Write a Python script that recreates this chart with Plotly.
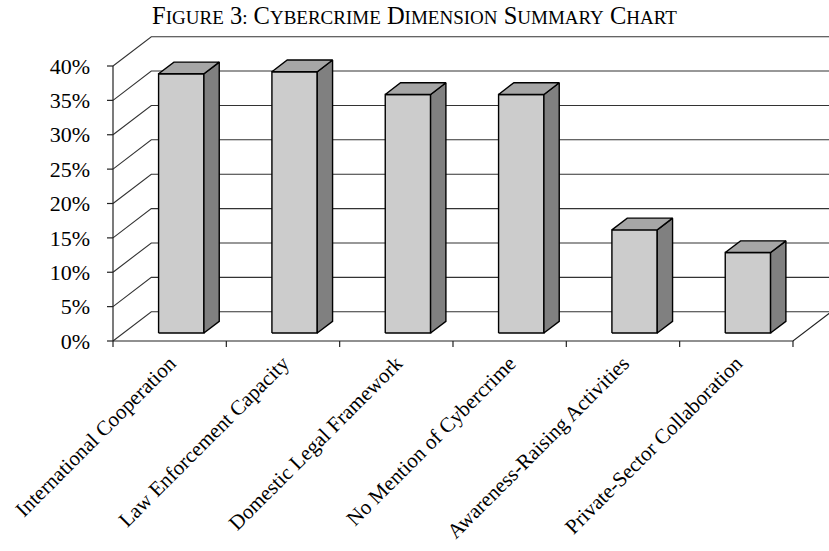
import plotly.graph_objects as go

# ---- data -------------------------------------------------------------
categories = [
    "International Cooperation",
    "Law Enforcement Capacity",
    "Domestic Legal Framework",
    "No Mention of Cybercrime",
    "Awareness-Raising Activities",
    "Private-Sector Collaboration",
]
shares = [37.7, 38.0, 34.7, 34.7, 15.0, 11.7]          # percent
tick_values = [0, 5, 10, 15, 20, 25, 30, 35, 40]
tick_labels = [f"{v}%" for v in tick_values]

# ---- oblique 3-D projection settings ----------------------------------
PX_PER_CAT = 113.33          # horizontal pixels per category
PX_PER_PCT = 6.875           # vertical pixels per percent
DEPTH_X = 38.3 / PX_PER_CAT  # full depth offset, category units
DEPTH_Y = 29.3 / PX_PER_PCT  # full depth offset, percent units
BAR_WIDTH = 0.40
BAR_T0, BAR_T1 = 0.273, 0.673  # bar front / back depth fractions

W, H = 829, 551
LEFT_PX, ZERO_PX = 113, 341
x0 = -10 / PX_PER_CAT
x1 = (W - LEFT_PX) / PX_PER_CAT
y0 = -12 / PX_PER_PCT
y1 = (ZERO_PX - 30) / PX_PER_PCT

TICK_X = 6 / PX_PER_CAT
TICK_Y = 6 / PX_PER_PCT

FRONT, TOP, SIDE = "#CCCCCC", "#A6A6A6", "#808080"
GRID = "#333333"
AXIS = "#222222"


def proj(x, y, t):
    return x + t * DEPTH_X, y + t * DEPTH_Y


fig = go.Figure()


def line(xs, ys, color, width):
    fig.add_trace(go.Scatter(x=xs, y=ys, mode="lines",
                             line=dict(color=color, width=width),
                             hoverinfo="skip", showlegend=False))


def face(pts, color):
    xs = [p[0] for p in pts] + [pts[0][0]]
    ys = [p[1] for p in pts] + [pts[0][1]]
    fig.add_trace(go.Scatter(x=xs, y=ys, mode="lines", fill="toself",
                             fillcolor=color,
                             line=dict(color="black", width=1.4),
                             hoverinfo="skip", showlegend=False))


# walls: left-side diagonals and back-wall gridlines
for v in tick_values:
    bx, by = proj(0, v, 1)
    line([0, bx, x1 + 1], [v, by, by], GRID, 1.1)

# front value axis with tick marks
line([0, 0], [0, tick_values[-1]], AXIS, 1.2)
for v in tick_values:
    line([-TICK_X, 0], [v, v], AXIS, 1.2)

# floor front edge, right floor edge and category tick marks
n = len(categories)
rx, ry = proj(n, 0, 1)
line([0, n, rx], [0, 0, ry], AXIS, 1.2)
for k in range(n + 1):
    line([k, k], [0, -TICK_Y], AXIS, 1.2)

# bars: front, side and top faces
for i, v in enumerate(shares):
    xl = i + 0.5 - BAR_WIDTH / 2 + 0.01
    xr = xl + BAR_WIDTH
    face([proj(xl, 0, BAR_T0), proj(xr, 0, BAR_T0),
          proj(xr, v, BAR_T0), proj(xl, v, BAR_T0)], FRONT)
    face([proj(xr, 0, BAR_T0), proj(xr, 0, BAR_T1),
          proj(xr, v, BAR_T1), proj(xr, v, BAR_T0)], SIDE)
    face([proj(xl, v, BAR_T0), proj(xr, v, BAR_T0),
          proj(xr, v, BAR_T1), proj(xl, v, BAR_T1)], TOP)

FONT = "Liberation Serif, Times New Roman, serif"


def small_caps(text, small=19):
    """Render text in small capitals: initials large, the rest reduced."""
    words = []
    for w in text.split(" "):
        head, tail = w[0], w[1:]
        if tail:
            words.append(f"{head.upper()}<span style='font-size:{small}px'>"
                         f"{tail.upper()}</span>")
        else:
            words.append(head.upper())
    return " ".join(words)


fig.update_layout(
    width=W, height=H,
    margin=dict(l=round(LEFT_PX + x0 * PX_PER_CAT), r=0, t=30,
                b=H - round(ZERO_PX - y0 * PX_PER_PCT), autoexpand=False),
    paper_bgcolor="white", plot_bgcolor="white",
    hovermode=False,
    font=dict(family=FONT, color="black", size=21),
    title=dict(text=small_caps("Figure 3: Cybercrime Dimension Summary Chart"),
               x=0.5, xanchor="center", y=1 - 15 / H, yanchor="middle",
               font=dict(family=FONT, size=24.5)),
    xaxis=dict(range=[x0, x1], showgrid=False, zeroline=False,
               showline=False, ticks="", ticklabelstandoff=-7,
               automargin=False,
               tickvals=[i + 0.5 for i in range(n)], ticktext=categories,
               tickangle=-45, tickfont=dict(size=21)),
    yaxis=dict(range=[y0, y1], showgrid=False, zeroline=False,
               showline=False, ticks="", ticklabelstandoff=12,
               automargin=False,
               tickvals=tick_values, ticktext=tick_labels,
               tickfont=dict(size=22)),
)

fig.write_html("out.html")
